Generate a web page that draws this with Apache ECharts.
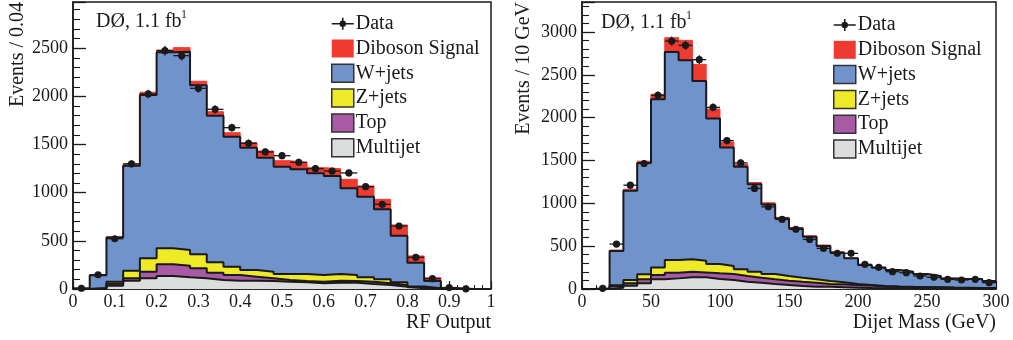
<!DOCTYPE html>
<html>
<head>
<meta charset="utf-8">
<script src="https://cdn.jsdelivr.net/npm/echarts@6/dist/echarts.min.js"></script>
<style>
  html, body { margin: 0; padding: 0; background: #fff; }
  #chart { width: 1013px; height: 340px; }
</style>
</head>
<body>
<div id="chart"></div>
<script>
// RF output panel, 25 bins of 0.04
const rfBinWidth = 0.04;
const rfMultijet = [0, 2, 35, 86, 111, 135, 121, 111, 93, 86, 86, 83, 76, 69, 59, 65, 65, 52, 41, 24, 7, 2, 1, 0, 0];
const rfTop = [0, 2, 20, 25, 69, 121, 121, 104, 76, 59, 42, 28, 17, 14, 17, 21, 18, 24, 18, 17, 10, 3, 1, 0, 0];
const rfZjets = [1, 6, 20, 79, 139, 166, 163, 145, 108, 87, 69, 69, 63, 73, 69, 70, 62, 45, 41, 28, 8, 3, 1, 0, 0];
const rfWjets = [4, 132, 460, 1090, 1696, 2036, 2059, 1755, 1523, 1350, 1270, 1184, 1114, 1087, 1056, 1017, 901, 838, 728, 485, 248, 75, 5, 1, 0];
const rfDiboson = [1, 4, 8, 15, 28, 24, 42, 42, 41, 41, 52, 69, 62, 69, 59, 76, 93, 111, 103, 111, 70, 34, 4, 1, 0];
const rfData = [8, 148, 522, 1300, 2025, 2475, 2423, 2084, 1866, 1675, 1513, 1423, 1384, 1316, 1249, 1225, 1205, 1062, 879, 654, 329, 107, 15, 2, 0];

// dijet mass panel, 30 bins of 10 GeV
const mjjBinWidth = 10;
const mjjMultijet = [0, 0, 15, 39, 66, 113, 124, 136, 136, 117, 105, 85, 74, 58, 47, 35, 27, 27, 19, 16, 12, 10, 9, 8, 7, 6, 5, 4, 4, 3];
const mjjTop = [0, 1, 20, 27, 47, 50, 66, 66, 58, 66, 70, 67, 58, 55, 50, 50, 47, 31, 35, 31, 28, 20, 16, 14, 12, 11, 9, 8, 7, 6];
const mjjZjets = [0, 1, 10, 39, 58, 89, 148, 144, 136, 108, 93, 78, 70, 62, 55, 47, 39, 35, 24, 11, 7, 5, 5, 4, 4, 3, 3, 3, 2, 2];
const mjjWjets = [0, 1, 398, 1041, 1301, 1962, 2428, 2323, 2098, 1698, 1385, 1198, 1022, 812, 672, 575, 497, 408, 345, 300, 233, 214, 191, 176, 152, 132, 107, 102, 104, 82];
const mjjDiboson = [0, 0, 12, 19, 20, 59, 167, 233, 194, 111, 63, 27, 19, 19, 12, 12, 11, 12, 12, 4, 4, 3, 3, 3, 3, 3, 3, 2, 2, 2];
const mjjData = [0, 8, 524, 1212, 1465, 2261, 2894, 2844, 2677, 2120, 1732, 1472, 1174, 959, 812, 696, 579, 474, 416, 416, 288, 253, 202, 190, 152, 136, 113, 105, 113, 74];

const names = ['Data', 'Diboson Signal', 'W+jets', 'Z+jets', 'Top', 'Multijet'];
const colors = {
  'Diboson Signal': '#ef3a31',
  'W+jets': '#7193cb',
  'Z+jets': '#eeea28',
  'Top': '#a85aa4',
  'Multijet': '#dcdddd'
};

const serif = '"Liberation Serif", "DejaVu Serif", serif';
const ink = '#1a1a1a';

// bin edges -> step points (last value repeated at the closing edge)
function stepData(vals, w) {
  const out = vals.map((v, i) => [+(i * w).toFixed(4), v]);
  out.push([+(vals.length * w).toFixed(4), vals[vals.length - 1]]);
  return out;
}

function pointData(vals, w) {
  return vals.map((v, i) => [(i + 0.5) * w, v]);
}

function dataRender(w) {
  return function (params, api) {
    const x = api.value(0), y = api.value(1);
    if (y <= 0) return;
    const c = api.coord([x, y]);
    const l = api.coord([x - w / 2, y]);
    const r = api.coord([x + w / 2, y]);
    const e = Math.sqrt(y);
    const t = api.coord([x, y + e]);
    const b = api.coord([x, y - e]);
    return {
      type: 'group',
      children: [
        { type: 'line', shape: { x1: l[0], y1: l[1], x2: r[0], y2: r[1] }, style: { stroke: ink, lineWidth: 1.3 } },
        { type: 'line', shape: { x1: t[0], y1: t[1], x2: b[0], y2: b[1] }, style: { stroke: ink, lineWidth: 1.3 } },
        { type: 'circle', shape: { cx: c[0], cy: c[1], r: 3.6 }, style: { fill: ink } }
      ]
    };
  };
}

// cumulative stack drawn top layer first, each area from zero covering the one before
function stackSeries(idx, layers, w) {
  const order = ['Multijet', 'Top', 'Z+jets', 'W+jets', 'Diboson Signal'];
  const n = layers['Multijet'].length;
  const run = new Array(n).fill(0);
  const cum = {};
  order.forEach(name => {
    for (let i = 0; i < n; i++) run[i] += layers[name][i];
    cum[name] = run.slice();
  });
  return order.slice().reverse().map(name => ({
    name: name,
    type: 'line',
    xAxisIndex: idx,
    yAxisIndex: idx,
    step: 'end',
    symbol: 'none',
    z: 2,
    lineStyle: name === 'Diboson Signal'
      ? { color: colors[name], width: 1 }
      : { color: ink, width: 2 },
    areaStyle: { color: colors[name], opacity: 1 },
    itemStyle: { color: colors[name] },
    data: stepData(cum[name], w),
    animation: false
  }));
}

const dataIcon = 'path://M0,8.2h22v1.6H0z M10.2,3h1.6v12h-1.6z M7.8,9a3.2,3.2 0 1,1 6.4,0a3.2,3.2 0 1,1 -6.4,0z';

function legendItems() {
  return names.map(n => {
    if (n === 'Data') return { name: n, icon: dataIcon, itemStyle: { color: ink, borderWidth: 0 } };
    return {
      name: n,
      icon: 'rect',
      itemStyle: {
        color: colors[n],
        borderColor: n === 'Diboson Signal' ? colors[n] : '#333',
        borderWidth: n === 'Diboson Signal' ? 0 : 1.5
      }
    };
  });
}

function legend(left, top) {
  return {
    orient: 'vertical',
    left: left,
    top: top,
    padding: 0,
    itemWidth: 22,
    itemHeight: 18,
    itemGap: 4.8,
    selectedMode: false,
    data: legendItems(),
    textStyle: { fontFamily: serif, fontSize: 20, color: ink, lineHeight: 17, padding: [0, 0, 0, -3] }
  };
}

function xAxis(idx, max, interval, fmt) {
  return {
    type: 'value',
    gridIndex: idx,
    min: 0,
    max: max,
    interval: interval,
    axisLine: { show: true, onZero: false, lineStyle: { color: ink, width: 1.5 } },
    axisTick: { inside: true, length: 8, lineStyle: { color: ink, width: 1.2 } },
    minorTick: { show: true, splitNumber: 5, length: 4, lineStyle: { color: ink, width: 1 } },
    splitLine: { show: false },
    axisLabel: { fontFamily: serif, fontSize: 18, color: ink, margin: 4, formatter: fmt }
  };
}

function yAxis(idx, max) {
  return {
    type: 'value',
    gridIndex: idx,
    min: 0,
    max: max,
    interval: 500,
    axisLine: { show: true, lineStyle: { color: ink, width: 1.5 } },
    axisTick: { inside: true, length: 13, lineStyle: { color: ink, width: 1.3 } },
    minorTick: { show: true, splitNumber: 5, length: 7, lineStyle: { color: ink, width: 1.1 } },
    splitLine: { show: false },
    axisLabel: { fontFamily: serif, fontSize: 18, color: ink, margin: 5, showMaxLabel: false, formatter: v => String(v) }
  };
}

const rfLayers = { 'Multijet': rfMultijet, 'Top': rfTop, 'Z+jets': rfZjets, 'W+jets': rfWjets, 'Diboson Signal': rfDiboson };
const mjjLayers = { 'Multijet': mjjMultijet, 'Top': mjjTop, 'Z+jets': mjjZjets, 'W+jets': mjjWjets, 'Diboson Signal': mjjDiboson };

const txt = (text, x, y, extra) => ({
  type: 'text', x: x, y: y, z: 100,
  ...(extra && extra.rotation ? { rotation: extra.rotation } : {}),
  style: Object.assign({ text: text, fill: ink, font: '20px ' + serif, align: 'left', verticalAlign: 'middle' }, extra ? extra.style : {})
});

const chart = echarts.init(document.getElementById('chart'), null, { renderer: 'canvas' });
chart.setOption({
  backgroundColor: '#fff',
  animation: false,
  grid: [
    { left: 73, right: 522, top: 2, bottom: 51, show: true, borderColor: ink, borderWidth: 1.5, backgroundColor: 'transparent' },
    { left: 582, right: 17, top: 2, bottom: 51, show: true, borderColor: ink, borderWidth: 1.5, backgroundColor: 'transparent' }
  ],
  xAxis: [
    xAxis(0, 1, 0.1, v => (v === 0 || v === 1) ? String(v) : v.toFixed(1)),
    xAxis(1, 300, 50, v => String(v))
  ],
  yAxis: [yAxis(0, 2980), yAxis(1, 3350)],
  legend: [legend(331, 13.7), legend(833, 15)],
  graphic: [
    txt('Events / 0.04', 18, 2, { rotation: Math.PI / 2, style: { align: 'right' } }),
    txt('Events / 10 GeV', 524, 2, { rotation: Math.PI / 2, style: { align: 'right' } }),
    txt('RF Output', 491, 323, { style: { align: 'right' } }),
    txt('Dijet Mass (GeV)', 996, 323, { style: { align: 'right' } }),
    txt('DØ, 1.1 fb', 96, 22),
    txt('1', 181, 15, { style: { font: '12px ' + serif } }),
    txt('DØ, 1.1 fb', 601, 23),
    txt('1', 686, 16, { style: { font: '12px ' + serif } })
  ],
  series: [
    ...stackSeries(0, rfLayers, rfBinWidth),
    ...stackSeries(1, mjjLayers, mjjBinWidth),
    {
      name: 'Data', type: 'custom', xAxisIndex: 0, yAxisIndex: 0, z: 3,
      renderItem: dataRender(rfBinWidth), data: pointData(rfData, rfBinWidth)
    },
    {
      name: 'Data', type: 'custom', xAxisIndex: 1, yAxisIndex: 1, z: 3,
      renderItem: dataRender(mjjBinWidth), data: pointData(mjjData, mjjBinWidth)
    }
  ]
});
</script>
</body>
</html>
